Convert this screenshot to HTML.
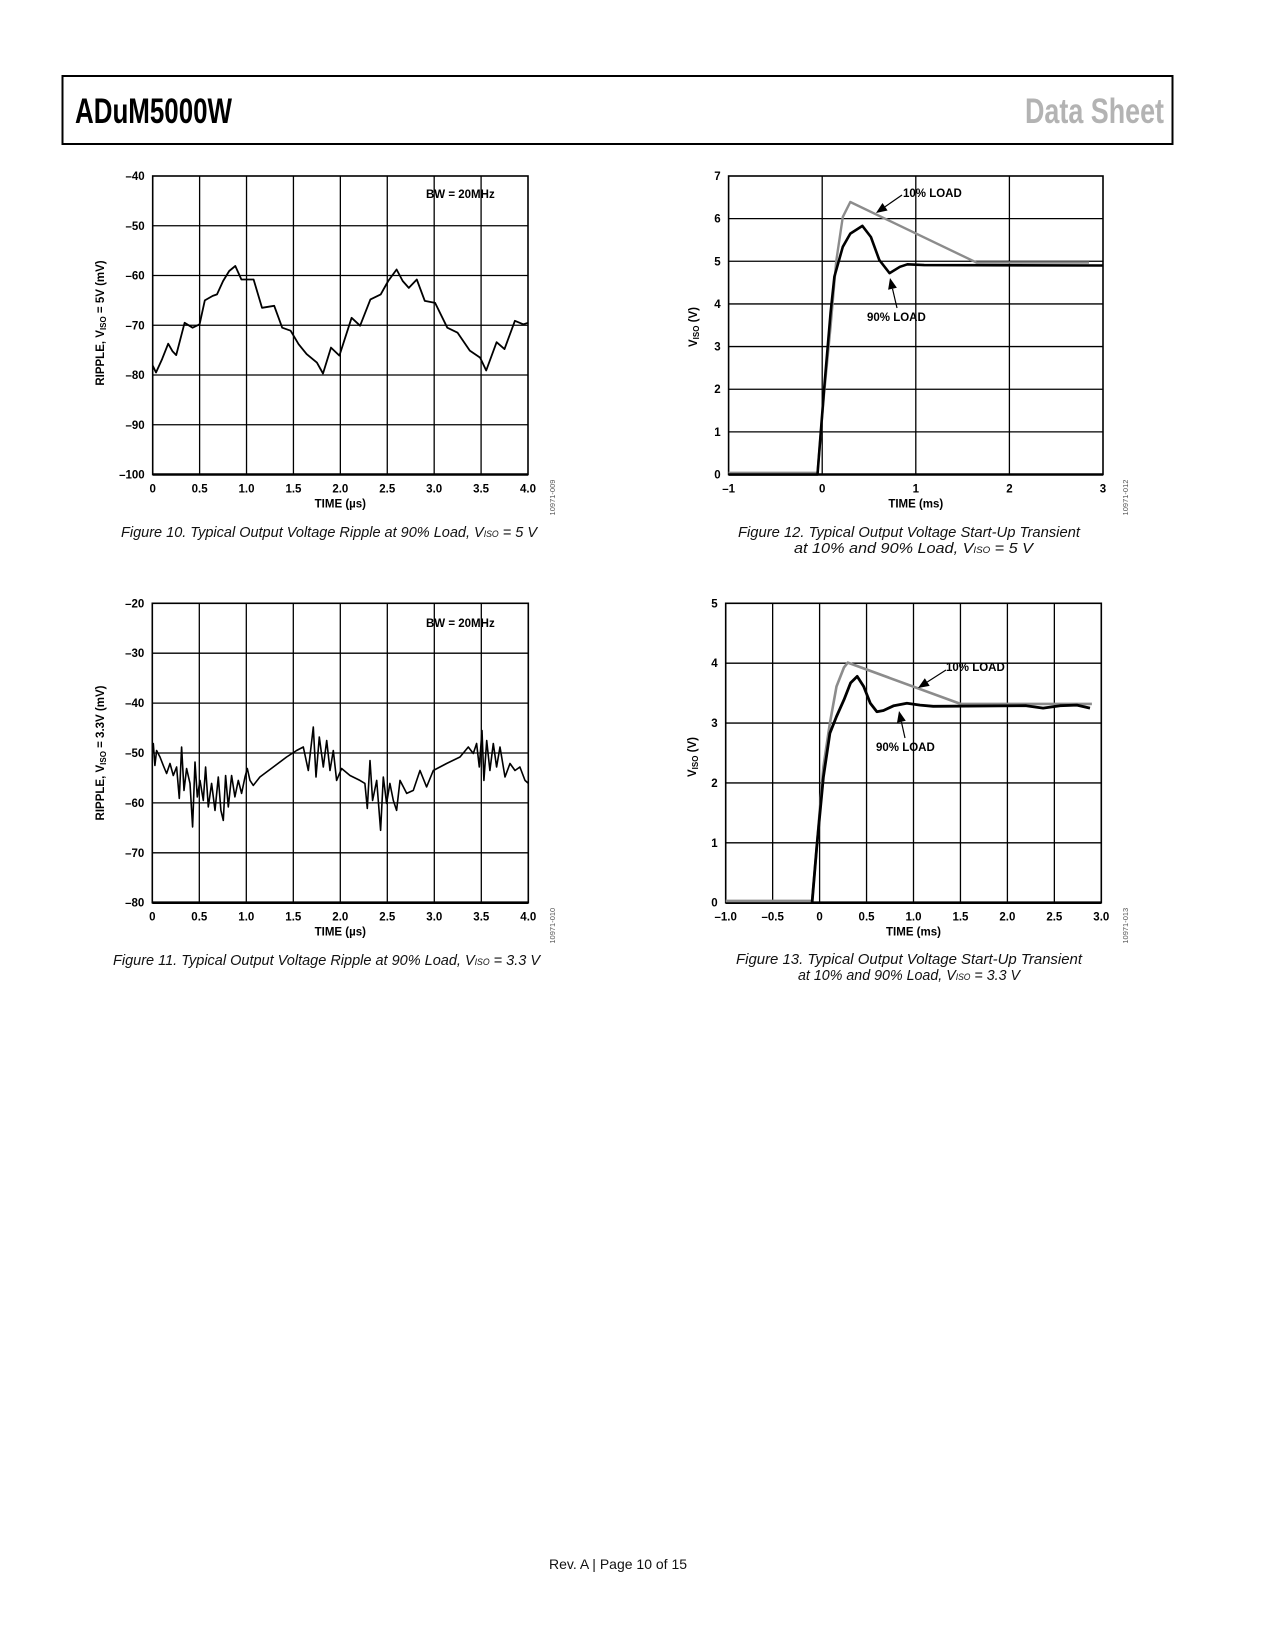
<!DOCTYPE html>
<html><head><meta charset="utf-8"><style>
html,body{margin:0;padding:0;background:#fff}
svg{display:block}
text{font-family:"Liberation Sans",Arial,sans-serif}
.tk{font-size:11.5px;font-weight:bold;fill:#000}
.cap{font-size:15px;font-style:italic;fill:#111}
.code{font-size:7.5px;fill:#555}
</style></head><body>
<svg id="page" width="1275" height="1650" viewBox="0 0 1275 1650" xmlns="http://www.w3.org/2000/svg">
<rect x="0" y="0" width="1275" height="1650" fill="#fff"/>
<g>
<rect x="62.5" y="76" width="1110" height="68" fill="none" stroke="#000" stroke-width="2"/>
<text x="75" y="123" font-size="35" font-weight="bold" textLength="157" lengthAdjust="spacingAndGlyphs">ADuM5000W</text>
<text x="1025" y="123" font-size="35" font-weight="bold" fill="#b3b3b3" textLength="139" lengthAdjust="spacingAndGlyphs">Data Sheet</text>
</g>
<g id="charts"></g>
<text class="cap" x="121" y="537" textLength="416" lengthAdjust="spacingAndGlyphs">Figure 10. Typical Output Voltage Ripple at 90% Load, V<tspan font-size="9">ISO</tspan> = 5 V</text>
<text class="cap" x="113" y="965" textLength="427" lengthAdjust="spacingAndGlyphs">Figure 11. Typical Output Voltage Ripple at 90% Load, V<tspan font-size="9">ISO</tspan> = 3.3 V</text>
<text class="cap" x="738" y="537" textLength="342" lengthAdjust="spacingAndGlyphs">Figure 12. Typical Output Voltage Start-Up Transient</text>
<text class="cap" x="794" y="553" textLength="239" lengthAdjust="spacingAndGlyphs">at 10% and 90% Load, V<tspan font-size="9">ISO</tspan> = 5 V</text>
<text class="cap" x="736" y="964" textLength="346" lengthAdjust="spacingAndGlyphs">Figure 13. Typical Output Voltage Start-Up Transient</text>
<text class="cap" x="798" y="980" textLength="222" lengthAdjust="spacingAndGlyphs">at 10% and 90% Load, V<tspan font-size="9">ISO</tspan> = 3.3 V</text>
<text x="618" y="1569" font-size="14" text-anchor="middle" fill="#111">Rev. A | Page 10 of 15</text>
</svg>
<script>
// ---- Figure 10 data ----
const f10T = [0,0.035,0.1,0.165,0.21,0.25,0.34,0.425,0.5,0.555,0.64,0.685,0.75,0.815,0.88,0.945,1.075,1.165,1.295,1.38,1.47,1.555,1.64,1.75,1.815,1.9,1.99,2.12,2.21,2.32,2.43,2.51,2.6,2.665,2.73,2.815,2.9,3.01,3.14,3.25,3.38,3.49,3.555,3.665,3.75,3.86,3.95,4.0];
const f10V = [-78.1,-79.5,-76.8,-73.7,-75.2,-76,-69.5,-70.5,-69.8,-65,-64.1,-63.8,-61.1,-59.1,-58.1,-60.8,-60.8,-66.5,-66.1,-70.5,-71.1,-73.8,-75.8,-77.5,-79.7,-74.5,-76.1,-68.5,-70.1,-64.8,-63.8,-61.1,-58.8,-61.1,-62.5,-60.8,-65.1,-65.5,-70.5,-71.5,-75.1,-76.5,-79.1,-73.4,-74.8,-69.1,-69.8,-69.5];
const f10XTicks = ["0","0.5","1.0","1.5","2.0","2.5","3.0","3.5","4.0"];
const f10YTicks = ["–40","–50","–60","–70","–80","–90","–100"];
// ---- Figure 11 data ----
const f11T = [0,.011,.028,.046,.082,.117,.152,.188,.223,.259,.287,.312,.337,.365,.401,.429,.454,.479,.507,.543,.567,.596,.631,.667,.702,.730,.755,.780,.809,.844,.879,.915,.950,.986,1.011,1.039,1.074,1.145,1.287,1.429,1.535,1.606,1.660,1.713,1.741,1.777,1.819,1.855,1.890,1.926,1.961,2.014,2.103,2.209,2.262,2.287,2.316,2.344,2.387,2.429,2.457,2.493,2.528,2.564,2.599,2.635,2.706,2.777,2.848,2.918,2.989,3.131,3.273,3.362,3.415,3.450,3.479,3.507,3.528,3.557,3.592,3.628,3.663,3.699,3.752,3.805,3.858,3.911,3.965,4.0];
const f11V = [-50.1,-48.1,-52.5,-49.5,-50.8,-52.5,-54.1,-52.1,-54.5,-52.8,-59.1,-48.8,-57.5,-53.1,-56.1,-64.8,-51.8,-58.8,-55.5,-59.5,-52.8,-60.8,-56.1,-61.5,-54.8,-61.5,-63.5,-54.5,-60.8,-54.5,-58.8,-55.5,-58.1,-54.8,-53.1,-55.5,-56.5,-54.8,-52.8,-50.8,-49.5,-48.8,-53.5,-44.8,-54.8,-46.8,-52.8,-47.5,-53.5,-49.5,-55.5,-53.1,-54.5,-55.5,-56.1,-61.1,-51.5,-59.5,-55.5,-65.5,-54.8,-60.1,-56.1,-59.5,-61.5,-55.5,-58.1,-57.5,-53.5,-56.8,-53.5,-52.1,-50.8,-48.8,-50.1,-48.1,-52.8,-45.5,-55.5,-47.5,-53.5,-48.1,-52.8,-48.8,-54.8,-52.1,-53.5,-52.8,-55.5,-56.1];
const f11XTicks = ["0","0.5","1.0","1.5","2.0","2.5","3.0","3.5","4.0"];
const f11YTicks = ["–20","–30","–40","–50","–60","–70","–80"];
// ---- Figure 12 data ----
const f12GrayT = [-1,-0.05,0.02,0.09,0.15,0.22,0.30,1.65,2.85];
const f12GrayV = [0.04,0.04,1.9,3.47,5.0,6.04,6.39,4.97,4.97];
const f12BlackT = [-1,-0.05,0.02,0.09,0.13,0.22,0.30,0.43,0.52,0.61,0.72,0.83,0.91,1.09,3.0];
const f12BlackV = [0.0,0.0,2.0,3.8,4.64,5.34,5.65,5.83,5.57,5.03,4.72,4.87,4.93,4.91,4.9];
const f12XTicks = ["–1","0","1","2","3"];
const f12YTicks = ["7","6","5","4","3","2","1","0"];
// ---- Figure 13 data ----
const f13GrayT = [-1,-0.08,-0.03,0.04,0.11,0.18,0.26,0.30,1.5,2.9];
const f13GrayV = [0.03,0.03,0.94,2.27,3.0,3.61,3.93,4.01,3.32,3.32];
const f13BlackT = [-0.08,-0.03,0.04,0.11,0.18,0.26,0.33,0.40,0.47,0.54,0.61,0.68,0.79,0.93,1.07,1.21,2.2,2.38,2.56,2.74,2.88];
const f13BlackV = [0.0,0.94,2.1,2.83,3.11,3.39,3.67,3.78,3.61,3.33,3.19,3.21,3.29,3.33,3.3,3.28,3.29,3.25,3.29,3.3,3.25];
const f13XTicks = ["–1.0","–0.5","0","0.5","1.0","1.5","2.0","2.5","3.0"];
const f13YTicks = ["5","4","3","2","1","0"];

const NS="http://www.w3.org/2000/svg";
const root=document.getElementById('charts');
function mk(tag,attrs,parent){const e=document.createElementNS(NS,tag);for(const k in attrs)e.setAttribute(k,attrs[k]);(parent||root).appendChild(e);return e;}

function chart(c){
  const g=mk('g',{});
  
  
  const sx=v=>c.L+(v-c.xmin)/(c.xmax-c.xmin)*(c.R-c.L);
  const sy=v=>c.B-(v-c.ymin)/(c.ymax-c.ymin)*(c.B-c.T);
  const nx=c.xt.length-1, ny=c.yt.length-1;
  for(let i=1;i<nx;i++){const x=c.L+i*(c.R-c.L)/nx;const l=mk('line',{x1:x,y1:c.T,x2:x,y2:c.B,stroke:'#000','stroke-width':1.3},g);
    
    }
  for(let i=1;i<ny;i++){const y=c.T+i*(c.B-c.T)/ny;const l=mk('line',{x1:c.L,y1:y,x2:c.R,y2:y,stroke:'#000','stroke-width':1.3},g);
    
    }
  const fr=mk('rect',{x:c.L,y:c.T,width:c.R-c.L,height:c.B-c.T,fill:'none',stroke:'#000','stroke-width':1.6},g);
  
  
  mk('line',{x1:c.L,y1:c.B,x2:c.R,y2:c.B,stroke:'#000','stroke-width':2.6},g);
  c.xt.forEach((t,i)=>{const e=mk('text',{x:c.L+i*(c.R-c.L)/nx,y:c.B+18,'text-anchor':'middle',class:'tk'},g);e.textContent=t;
    
    });
  c.yt.forEach((t,i)=>{const e=mk('text',{x:c.L-8,y:c.T+i*(c.B-c.T)/ny+4,'text-anchor':'end',class:'tk'},g);e.textContent=t;
    
    });
  const xt=mk('text',{x:(c.L+c.R)/2,y:c.B+33,'text-anchor':'middle',class:'tk'},g);xt.textContent=c.xtitle;
  
  
  const yt=mk('text',{x:0,y:0,'text-anchor':'middle',class:'tk',transform:`translate(${c.ytx},${c.yty}) rotate(-90)`},g);
  yt.innerHTML=c.ytitle;
  
  
  const cd=mk('text',{x:0,y:0,'text-anchor':'middle',class:'code',transform:`translate(${c.codeX},${c.B+23}) rotate(-90)`},g);cd.textContent=c.code;
  
  
  c.series.forEach(s=>{
    const d=s.t.map((t,i)=>(i?'L':'M')+sx(t).toFixed(1)+','+sy(s.v[i]).toFixed(1)).join(' ');
    const p=mk('path',{d:d,fill:'none',stroke:s.color,'stroke-width':s.w,'stroke-linejoin':'round'},g);
    
    
  });
  return g;
}
function label(txt,x,y,name){const e=mk('text',{x:x,y:y,class:'tk'});e.textContent=txt;
  
  }
function arrow(x1,y1,x2,y2,name){
  const a=Math.atan2(y2-y1,x2-x1),h=11,w=4.5;
  const bx=x2-h*Math.cos(a),by=y2-h*Math.sin(a);
  const g=mk('g',{});
  
  
  mk('line',{x1:x1,y1:y1,x2:bx,y2:by,stroke:'#000','stroke-width':1.2},g);
  mk('polygon',{points:`${x2},${y2} ${bx-w*Math.sin(a)},${by+w*Math.cos(a)} ${bx+w*Math.sin(a)},${by-w*Math.cos(a)}`,fill:'#000'},g);
}

chart({name:'fig10-ripple-chart',L:152.7,R:528,T:176,B:474.5,xmin:0,xmax:4,ymin:-100,ymax:-40,xt:f10XTicks,yt:f10YTicks,
  xtitle:'TIME (µs)',ytitle:'RIPPLE, V<tspan font-size="8" dy="2">ISO</tspan><tspan dy="-2"> = 5V (mV)</tspan>',ytx:104,yty:323,code:'10971-009',codeX:555,
  series:[{t:f10T,v:f10V,color:'#000',w:1.8,name:'ripple-5v-line'}]});
label('BW = 20MHz',426,198,'bandwidth-note');

chart({name:'fig11-ripple-chart',L:152.3,R:528.3,T:603.3,B:902.7,xmin:0,xmax:4,ymin:-80,ymax:-20,xt:f11XTicks,yt:f11YTicks,
  xtitle:'TIME (µs)',ytitle:'RIPPLE, V<tspan font-size="8" dy="2">ISO</tspan><tspan dy="-2"> = 3.3V (mV)</tspan>',ytx:104,yty:753,code:'10971-010',codeX:555,
  series:[{t:f11T,v:f11V,color:'#000',w:1.6,name:'ripple-3v3-line'}]});
label('BW = 20MHz',426,627,'bandwidth-note');

chart({name:'fig12-startup-chart',L:728.6,R:1103,T:176,B:474.5,xmin:-1,xmax:3,ymin:0,ymax:7,xt:f12XTicks,yt:f12YTicks,
  xtitle:'TIME (ms)',ytitle:'V<tspan font-size="8" dy="2">ISO</tspan><tspan dy="-2"> (V)</tspan>',ytx:697,yty:327,code:'10971-012',codeX:1128,
  series:[{t:f12GrayT,v:f12GrayV,color:'#8c8c8c',w:2.4,name:'load-10pct-line'},{t:f12BlackT,v:f12BlackV,color:'#000',w:2.6,name:'load-90pct-line'}]});
label('10% LOAD',903,197,'label-10pct-load');
arrow(902,195,876,213,'arrow-10pct-load');
label('90% LOAD',867,321,'label-90pct-load');
arrow(897,308,890,278,'arrow-90pct-load');

chart({name:'fig13-startup-chart',L:725.7,R:1101.3,T:603.3,B:902.7,xmin:-1,xmax:3,ymin:0,ymax:5,xt:f13XTicks,yt:f13YTicks,
  xtitle:'TIME (ms)',ytitle:'V<tspan font-size="8" dy="2">ISO</tspan><tspan dy="-2"> (V)</tspan>',ytx:696,yty:757,code:'10971-013',codeX:1128,
  series:[{t:f13GrayT,v:f13GrayV,color:'#8c8c8c',w:2.6,name:'load-10pct-line'},{t:f13BlackT,v:f13BlackV,color:'#000',w:2.8,name:'load-90pct-line'}]});
label('10% LOAD',946,671,'label-10pct-load');
arrow(946,670,918,688,'arrow-10pct-load');
label('90% LOAD',876,751,'label-90pct-load');
arrow(905,738,899,711,'arrow-90pct-load');
</script>
</body></html>
